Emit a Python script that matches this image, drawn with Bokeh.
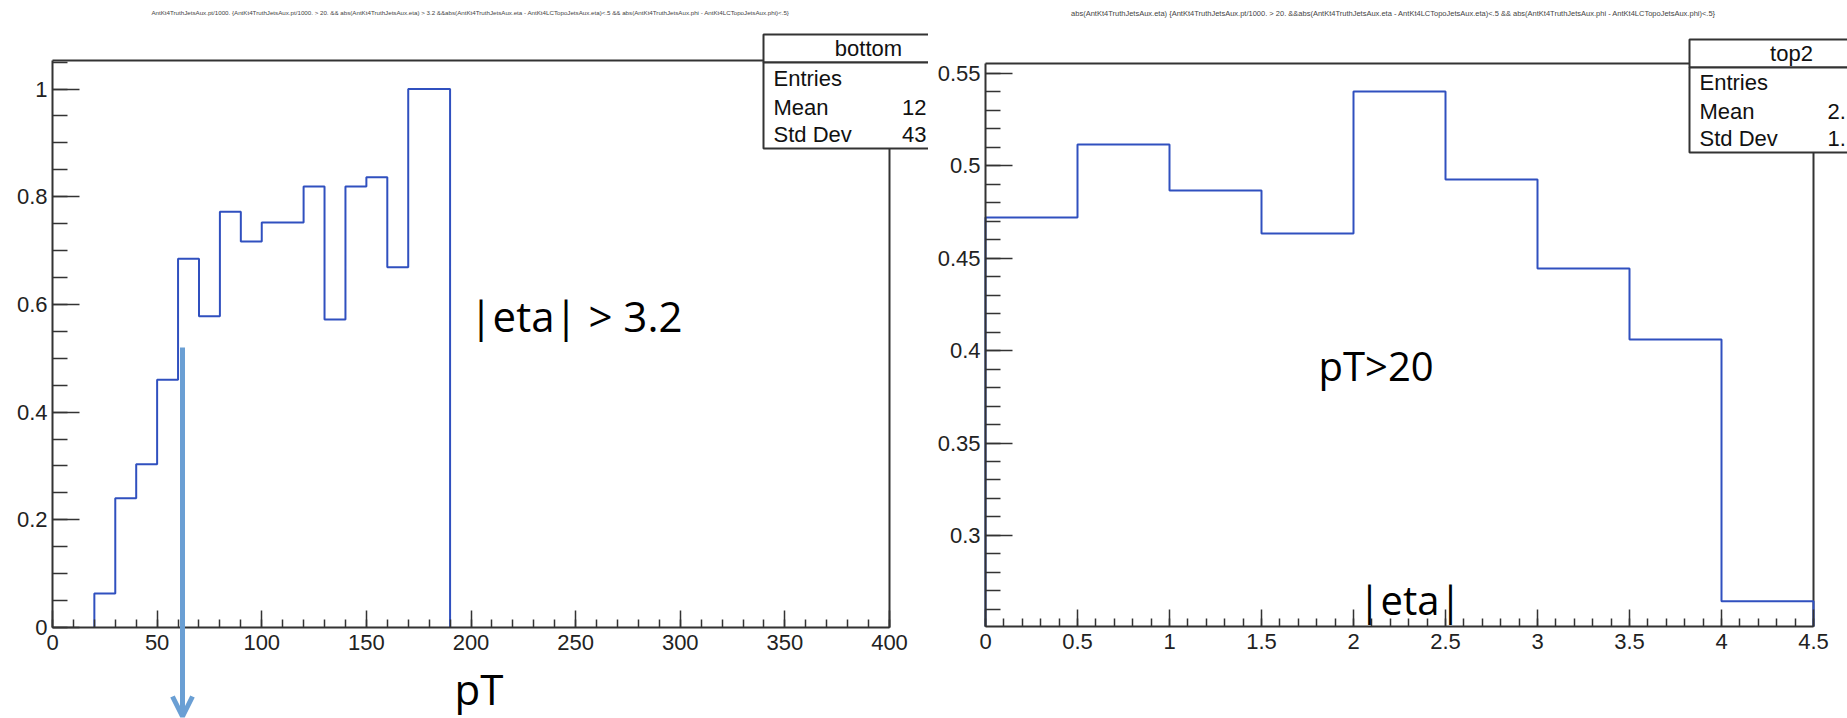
import numpy as np
from bokeh.plotting import figure
from bokeh.layouts import row
from bokeh.models import (Range1d, FixedTicker, CustomJSTickFormatter, Label,
                          Arrow, OpenHead)
from bokeh.embed import file_html
from bokeh.resources import INLINE

# ---------------- data ----------------
# left panel: efficiency vs pT for |eta| > 3.2 (bins of 10 GeV)
pt_bin_low = [20, 30, 40, 50, 60, 70, 80, 90, 100, 110, 120, 130, 140, 150, 160, 170, 180]
pt_bin_width = 10
pt_eff = [0.063, 0.240, 0.303, 0.460, 0.685, 0.578, 0.772, 0.717, 0.752, 0.752,
          0.819, 0.572, 0.819, 0.836, 0.669, 1.000, 1.000]
pt_xticks = [0, 50, 100, 150, 200, 250, 300, 350, 400]
pt_yticks = [0, 0.2, 0.4, 0.6, 0.8, 1]

# right panel: efficiency vs |eta| for pT > 20 (bins of 0.5)
eta_bin_low = [0, 0.5, 1.0, 1.5, 2.0, 2.5, 3.0, 3.5, 4.0]
eta_bin_width = 0.5
eta_eff = [0.472, 0.5116, 0.4867, 0.4634, 0.5403, 0.4926, 0.4445, 0.406, 0.2643]
eta_xticks = [0, 0.5, 1, 1.5, 2, 2.5, 3, 3.5, 4, 4.5]
eta_yticks = [0.3, 0.35, 0.4, 0.45, 0.5, 0.55]

left_title = ("AntKt4TruthJetsAux.pt/1000. {AntKt4TruthJetsAux.pt/1000. > 20. && "
              "abs(AntKt4TruthJetsAux.eta) > 3.2 &&abs(AntKt4TruthJetsAux.eta - AntKt4LCTopoJetsAux.eta)<.5 "
              "&& abs(AntKt4TruthJetsAux.phi - AntKt4LCTopoJetsAux.phi)<.5}")
right_title = ("abs(AntKt4TruthJetsAux.eta) {AntKt4TruthJetsAux.pt/1000. > 20. "
               "&&abs(AntKt4TruthJetsAux.eta - AntKt4LCTopoJetsAux.eta)<.5 "
               "&& abs(AntKt4TruthJetsAux.phi - AntKt4LCTopoJetsAux.phi)<.5}")

HIST_COLOR = "#3050bf"
FRAME = "#333333"
AXFONT = "Liberation Sans"
ANNFONT = "Open Sans"
H = 718


def step_outline(lows, width, vals, base):
    xs, ys = [lows[0]], [base]
    for lo, v in zip(lows, vals):
        xs += [lo, lo + width]
        ys += [v, v]
    xs.append(lows[-1] + width)
    ys.append(base)
    return xs, ys


class Panel:
    """A canvas whose whole area is the data frame; the ROOT-style pad frame
    (pixel box fl..fr, ft..fb) spans data x0..x1, y0..y1."""

    def __init__(self, width, fl, fr, ft, fb, x0, x1, y0, y1):
        self.width = width
        self.kx = (x1 - x0) / (fr - fl)
        self.ky = (y1 - y0) / (fb - ft)
        self.fl, self.fb, self.x0, self.y0 = fl, fb, x0, y0
        self.x1, self.y1 = x1, y1
        xr = Range1d(self.X(0), self.X(width))
        yr = Range1d(self.Y(H), self.Y(0))
        p = figure(width=width, height=H, x_range=xr, y_range=yr,
                   output_backend="svg", toolbar_location=None,
                   min_border=0, min_border_left=0, min_border_right=0,
                   min_border_top=0, min_border_bottom=0)
        p.grid.visible = False
        p.outline_line_color = None
        p.background_fill_color = "white"
        p.border_fill_color = "white"
        for ax in (p.xaxis[0], p.yaxis[0]):
            ax.axis_line_color = FRAME
            ax.axis_line_width = 2
            ax.major_tick_line_color = FRAME
            ax.minor_tick_line_color = FRAME
            ax.major_tick_line_width = 1.5
            ax.minor_tick_line_width = 1.5
            ax.major_tick_out = 0
            ax.minor_tick_out = 0
            ax.major_label_text_font = AXFONT
            ax.major_label_text_font_size = "22px"
            ax.major_label_text_color = "#222222"
            ax.formatter = CustomJSTickFormatter(code="return tick.toString();")
        p.xaxis.fixed_location = y0
        p.yaxis.fixed_location = x0
        p.xaxis.bounds = (x0, x1)
        p.yaxis.bounds = (y0, y1)
        p.xaxis.major_tick_in = 17
        p.xaxis.minor_tick_in = 8
        p.xaxis.major_label_standoff = 7
        p.yaxis.major_tick_in = 27
        p.yaxis.minor_tick_in = 15
        p.yaxis.major_label_standoff = 5
        # top and right edges of the pad frame
        p.line([x0, x1, x1], [y1, y1, y0], line_color=FRAME, line_width=2)
        self.p = p

    # pixel -> data helpers for decorations
    def X(self, px):
        return self.x0 + (px - self.fl) * self.kx

    def Y(self, py):
        return self.y0 + (self.fb - py) * self.ky

    def label(self, px, py, text, font, size, align="left", baseline="middle", color="#111111"):
        self.p.add_layout(Label(x=self.X(px), y=self.Y(py), text=text, text_align=align,
                                text_baseline=baseline, text_font=font,
                                text_font_size=size, text_color=color))

    def stat_box(self, left, top, sep, bottom, header, hx, rows, lx, vx, valign, rys):
        p = self.p
        r = self.X(self.width + 80)
        for t, b in ((top, sep), (sep, bottom)):
            p.quad(left=[self.X(left)], right=[r], top=[self.Y(t)], bottom=[self.Y(b)],
                   fill_color="white", line_color=FRAME, line_width=2)
        self.label(hx, (top + sep) / 2, header, AXFONT, "22px", align="center")
        for (name, val), y in zip(rows, rys):
            self.label(lx, y, name, AXFONT, "22px")
            if val:
                self.label(vx, y, val, AXFONT, "22px", align=valign)


# ---------------- left panel ----------------
L = Panel(928, 52, 889, 60, 627, 0, 400, 0, 1.053)
p1 = L.p
p1.xaxis.ticker = FixedTicker(ticks=pt_xticks, minor_ticks=list(np.arange(0, 401, 10)))
p1.yaxis.ticker = FixedTicker(ticks=pt_yticks, minor_ticks=list(np.round(np.arange(0, 1.051, 0.05), 3)))
xs1, ys1 = step_outline(pt_bin_low, pt_bin_width, pt_eff, 0.0)
p1.line(xs1, ys1, line_color=HIST_COLOR, line_width=2)

L.label(470, 12, left_title, AXFONT, "6.2px", align="center", color="#444444")
L.stat_box(763, 34, 62, 148, "bottom", 868,
           [("Entries", ""), ("Mean", "12"), ("Std Dev", "43")], 773, 926, "right",
           [78, 107, 134])
L.label(469, 315, "|eta| > 3.2", ANNFONT, "42px", baseline="alphabetic", color="black")
L.label(454, 688, "pT", ANNFONT, "42px", baseline="alphabetic", color="black")
p1.add_layout(Arrow(x_start=L.X(182), y_start=L.Y(347), x_end=L.X(182), y_end=L.Y(716),
                    line_color="#6a9fd4", line_width=5,
                    end=OpenHead(line_color="#6a9fd4", line_width=5, size=20)))

# ---------------- right panel ----------------
R = Panel(919, 985 - 928, 1813 - 928, 63, 626, 0, 4.5, 0.2507, 0.5554)
p2 = R.p
p2.xaxis.ticker = FixedTicker(ticks=eta_xticks, minor_ticks=list(np.round(np.arange(0, 4.51, 0.1), 2)))
p2.yaxis.ticker = FixedTicker(ticks=eta_yticks, minor_ticks=list(np.round(np.arange(0.26, 0.551, 0.01), 3)))
xs2, ys2 = step_outline(eta_bin_low, eta_bin_width, eta_eff, 0.2507)
p2.line(xs2, ys2, line_color=HIST_COLOR, line_width=2)

R.label(1393 - 928, 13, right_title, AXFONT, "7.5px", align="center", color="#444444")
R.stat_box(1689 - 928, 39, 67, 152, "top2", 1791 - 928,
           [("Entries", ""), ("Mean", "2."), ("Std Dev", "1.")], 1699 - 928, 1827 - 928, "left",
           [82, 111, 138])
R.label(1318 - 928, 365, "pT>20", ANNFONT, "40px", baseline="alphabetic", color="black")
R.label(1358 - 928, 599, "|eta|", ANNFONT, "40px", baseline="alphabetic", color="black")

layout = row(p1, p2, spacing=0)
open("out.html", "w").write(file_html(layout, INLINE))
